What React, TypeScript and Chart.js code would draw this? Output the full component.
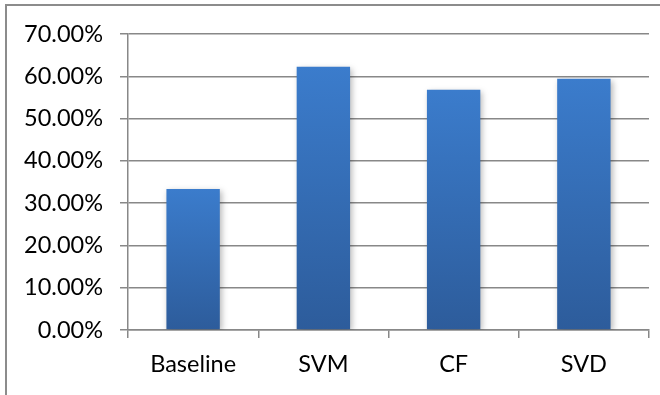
import React, { useEffect, useRef } from "react";
import { Chart, registerables } from "chart.js";

Chart.register(...registerables);

const categories = ["Baseline", "SVM", "CF", "SVD"];
const accuracy = [33.33, 62.25, 56.8, 59.4];
const yMax = 70;
const yStep = 10;

const FONT = "Lato, 'Open Sans', sans-serif";

// Soft outer shadow behind the bars
const barShadow = {
  id: "barShadow",
  beforeDatasetsDraw(chart: any) {
    const ctx = chart.ctx;
    ctx.save();
    ctx.shadowColor = "rgba(0,0,0,0.28)";
    ctx.shadowBlur = 6;
    ctx.shadowOffsetX = 2;
    ctx.shadowOffsetY = 2;
  },
  afterDatasetsDraw(chart: any) {
    chart.ctx.restore();
  },
};

// Frame line along the top and left of the chart
const frame = {
  id: "frame",
  afterDraw(chart: any) {
    const ctx = chart.ctx;
    ctx.save();
    ctx.strokeStyle = "#8c8c8c";
    ctx.lineWidth = 2;
    ctx.beginPath();
    ctx.moveTo(6, chart.height + 2);
    ctx.lineTo(6, 5);
    ctx.lineTo(chart.width + 2, 5);
    ctx.stroke();
    ctx.restore();
  },
};

export default function App() {
  const ref = useRef<HTMLCanvasElement>(null);

  useEffect(() => {
    if (!ref.current) return;
    const chart = new Chart(ref.current, {
      type: "bar",
      data: {
        labels: categories,
        datasets: [
          {
            data: accuracy,
            backgroundColor: (c: any) => {
              const chartArea = c.chart.chartArea;
              if (!chartArea) return "#3a7bcb";
              const yScale = c.chart.scales.y;
              const v = c.raw as number;
              const top = yScale ? yScale.getPixelForValue(v) : chartArea.top;
              const bottom = chartArea.bottom;
              const g = c.chart.ctx.createLinearGradient(0, top, 0, bottom);
              g.addColorStop(0, "#3b7ccc");
              g.addColorStop(1, "#2d5c9b");
              return g;
            },
            borderWidth: 0,
            barPercentage: 0.41,
            categoryPercentage: 1,
          },
        ],
      },
      options: {
        responsive: false,
        animation: false,
        layout: { padding: { top: 34, right: 11, left: 0, bottom: 0 } },
        plugins: { legend: { display: false }, tooltip: { enabled: false } },
        scales: {
          x: {
            offset: true,
            grid: {
              offset: true,
              drawOnChartArea: false,
              drawTicks: true,
              tickLength: 8,
              color: "#888888",
              lineWidth: 1.5,
            },
            border: { display: true, color: "#888888", width: 1.5 },
            ticks: {
              color: "#000000",
              font: { family: FONT, size: 23.5 },
              padding: 12,
            },
            afterFit: (s: any) => {
              s.height = 65;
            },
          },
          y: {
            min: 0,
            max: yMax,
            grid: {
              color: "#888888",
              lineWidth: 1.5,
              tickLength: 8,
              drawTicks: true,
            },
            border: { display: true, color: "#888888", width: 1.5 },
            ticks: {
              stepSize: yStep,
              color: "#000000",
              font: { family: FONT, size: 23.5 },
              padding: 17,
              callback: (v: any) => Number(v).toFixed(2) + "%",
            },
            afterFit: (s: any) => {
              s.width = 128;
            },
          },
        },
      },
      plugins: [barShadow, frame],
    });
    return () => chart.destroy();
  }, []);

  return (
    <div style={{ position: "fixed", left: 0, top: 0, width: 660, height: 395, background: "#fff" }}>
      <canvas ref={ref} width={660} height={395} style={{ display: "block" }} />
    </div>
  );
}
